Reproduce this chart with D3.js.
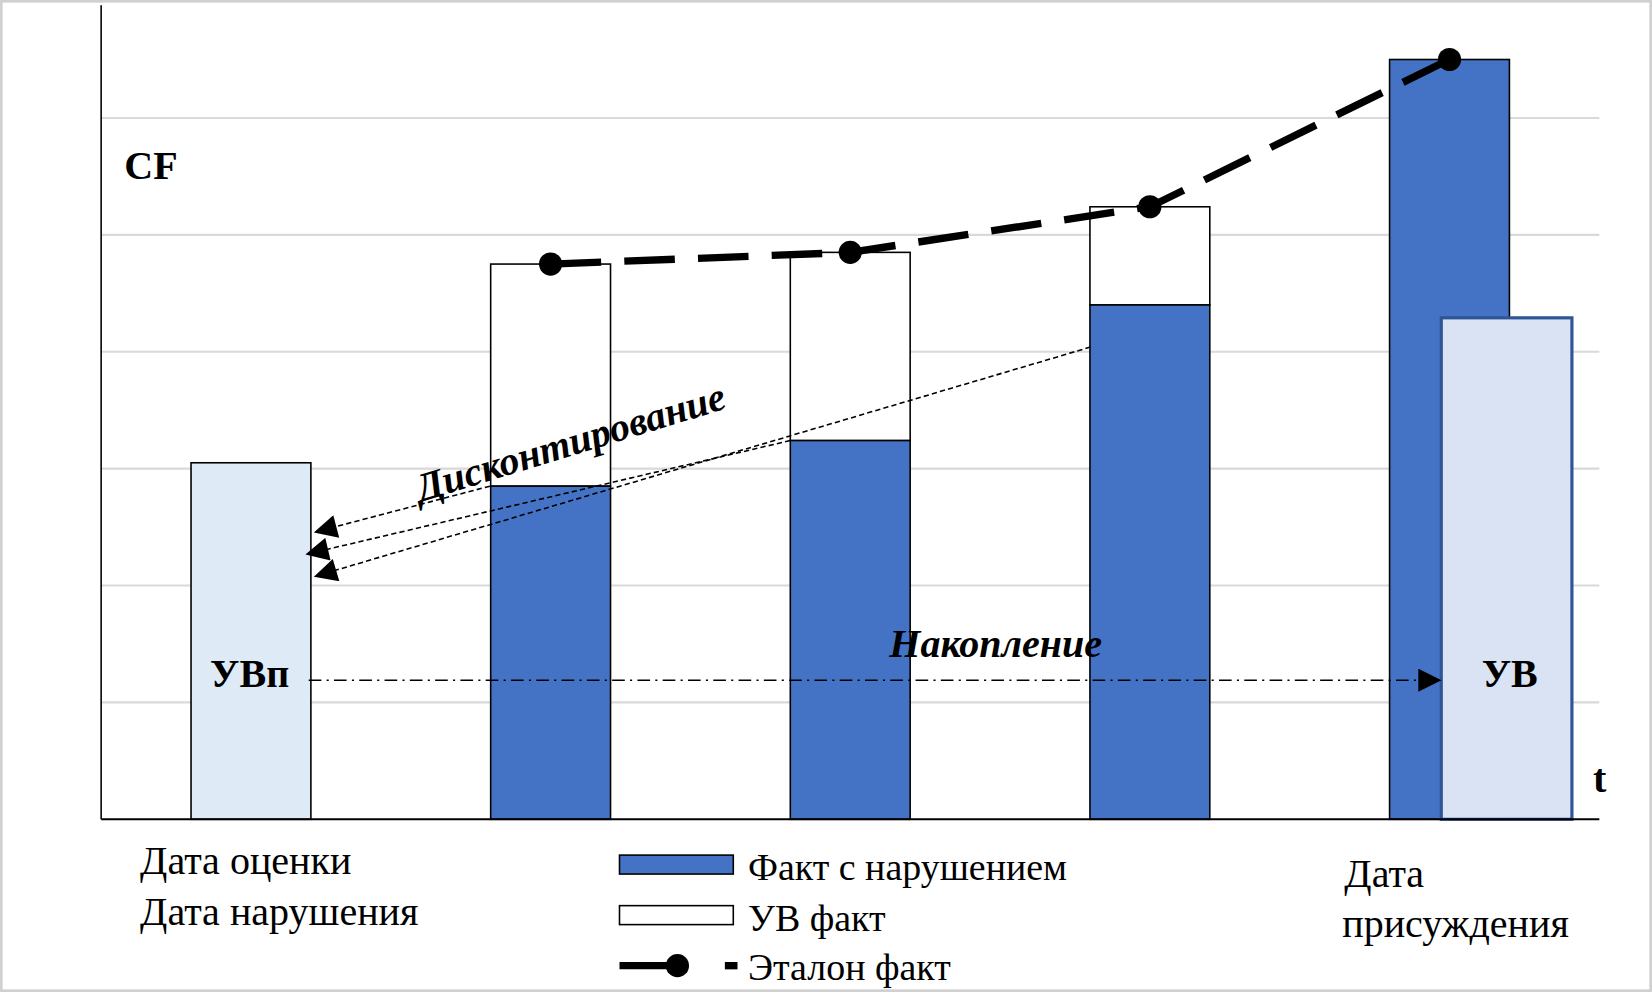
<!DOCTYPE html>
<html>
<head>
<meta charset="utf-8">
<style>
  body { margin: 0; background: #fff; }
  svg { display: block; font-family: "Liberation Serif", "Times New Roman", serif; }
</style>
</head>
<body>
<svg id="chart" width="1652" height="992" viewBox="0 0 1568 942" preserveAspectRatio="none"></svg>
<script src="https://cdn.jsdelivr.net/npm/d3@7"></script>
<script>
// data
var categories = ["Дата оценки", "p2", "p3", "p4", "Дата присуждения"];
var factValues = [0, 2.85, 3.24, 4.40, 6.50];     // Факт с нарушением
var uvTotal = [0, 4.75, 4.85, 5.24, 0];           // top of УВ факт
var etalonValues = [null, 4.75, 4.85, 5.24, 6.50];
var uvpValue = 3.05;
var uvValue = 4.29;
var gridTicks = [1, 2, 3, 4, 5, 6];

var svg = d3.select("#chart");
svg.append("rect").attr("x", 1).attr("y", 1).attr("width", 1566).attr("height", 940)
  .attr("fill", "#fff").attr("stroke", "#d0d0d0").attr("stroke-width", 3);

var x = d3.scaleBand().domain(categories).range([96, 1518]).paddingInner(0.6).paddingOuter(0.3);
var y = d3.scaleLinear().domain([0, 7]).range([778, 1]);
var bw = x.bandwidth();
var cx = function(c) { return x(c) + bw / 2; };

// grid
svg.append("g").selectAll("line").data(gridTicks).join("line")
  .attr("x1", 96).attr("x2", 1518).attr("y1", d => y(d)).attr("y2", d => y(d))
  .attr("stroke", "#d9d9d9").attr("stroke-width", 2);

// UVп bar
svg.append("rect").attr("x", x(categories[0])).attr("y", y(uvpValue))
  .attr("width", bw).attr("height", y(0) - y(uvpValue))
  .attr("fill", "#deebf7").attr("stroke", "#000").attr("stroke-width", 1.5);

// white (УВ факт) parts
var idx = [1, 2, 3];
svg.append("g").selectAll("rect").data(idx).join("rect")
  .attr("x", i => x(categories[i])).attr("y", i => y(uvTotal[i]))
  .attr("width", bw).attr("height", i => y(factValues[i]) - y(uvTotal[i]))
  .attr("fill", "#fff").attr("stroke", "#000").attr("stroke-width", 1.5);
// blue parts
svg.append("g").selectAll("rect").data([1, 2, 3, 4]).join("rect")
  .attr("x", i => x(categories[i])).attr("y", i => y(factValues[i]))
  .attr("width", bw).attr("height", i => y(0) - y(factValues[i]))
  .attr("fill", "#4472c4").attr("stroke", "#000").attr("stroke-width", 1.5);

// UV bar
svg.append("rect").attr("x", 1368).attr("y", y(uvValue))
  .attr("width", 124).attr("height", y(0) - y(uvValue))
  .attr("fill", "#dae3f3").attr("stroke", "#2f5597").attr("stroke-width", 3);

// axes
svg.append("line").attr("x1", 96).attr("x2", 96).attr("y1", 5).attr("y2", y(0)).attr("stroke", "#000").attr("stroke-width", 1.5);
svg.append("line").attr("x1", 96).attr("x2", 1518).attr("y1", y(0)).attr("y2", y(0)).attr("stroke", "#000").attr("stroke-width", 2);

// etalon line
var pts = etalonValues.map((v, i) => v == null ? null : [cx(categories[i]), y(v)]).filter(p => p);
svg.append("path").attr("d", d3.line()(pts)).attr("fill", "none")
  .attr("stroke", "#000").attr("stroke-width", 7).attr("stroke-dasharray", "48,22");
svg.append("g").selectAll("circle").data(pts).join("circle")
  .attr("cx", d => d[0]).attr("cy", d => d[1]).attr("r", 11).attr("fill", "#000");

// arrows
var defs = svg.append("defs");
defs.append("marker").attr("id", "ah").attr("viewBox", "0 0 10 10").attr("refX", 9).attr("refY", 5)
  .attr("markerWidth", 6).attr("markerHeight", 6).attr("markerUnits", "userSpaceOnUse")
  .attr("orient", "auto").append("path").attr("d", "M0,0L10,5L0,10Z").attr("fill", "#000");
defs.select("marker").attr("markerWidth", 26).attr("markerHeight", 22);

var discount = [[[465, y(factValues[1])], [300, 505]], [[750, y(factValues[2])], [292, 526]], [[1035, y(factValues[3]) + 40], [300, 547]]];
svg.append("g").selectAll("line").data(discount).join("line")
  .attr("x1", d => d[0][0]).attr("y1", d => d[0][1]).attr("x2", d => d[1][0]).attr("y2", d => d[1][1])
  .attr("stroke", "#000").attr("stroke-width", 1.5).attr("stroke-dasharray", "5,3")
  .attr("marker-end", "url(#ah)");

svg.append("line").attr("x1", 293).attr("x2", 1366).attr("y1", 646).attr("y2", 646)
  .attr("stroke", "#000").attr("stroke-width", 1.5).attr("stroke-dasharray", "12,5,2,5")
  .attr("marker-end", "url(#ah)");

// texts
function txt(t, xx, yy, size, opts) {
  opts = opts || {};
  var e = svg.append("text").attr("x", xx).attr("y", yy).text(t)
    .attr("font-size", size).attr("fill", "#000")
    .attr("font-weight", opts.bold ? "bold" : "normal")
    .attr("font-style", opts.italic ? "italic" : "normal")
    .attr("text-anchor", opts.anchor || "start");
  if (opts.rotate) e.attr("transform", "rotate(" + opts.rotate + "," + xx + "," + yy + ")");
  return e;
}
txt("CF", 118, 170, 38, {bold: true});
txt("t", 1512, 752, 38, {bold: true});
txt("УВп", 237, 652, 38, {bold: true, anchor: "middle"});
txt("УВ", 1433, 652, 38, {bold: true, anchor: "middle"});
txt("Накопление", 945, 624, 38, {bold: true, italic: true, anchor: "middle"});
txt("Дисконтирование", 545, 432, 38, {bold: true, italic: true, anchor: "middle", rotate: -17});
txt("Дата оценки", 133, 830, 38);
txt("Дата нарушения", 133, 878, 38);
txt("Дата", 1276, 842, 38);
txt("присуждения", 1274, 890, 38);

// legend
svg.append("rect").attr("x", 588).attr("y", 812).attr("width", 108).attr("height", 18)
  .attr("fill", "#4472c4").attr("stroke", "#000").attr("stroke-width", 1.5);
svg.append("rect").attr("x", 588).attr("y", 860).attr("width", 108).attr("height", 18)
  .attr("fill", "#fff").attr("stroke", "#000").attr("stroke-width", 1.5);
svg.append("line").attr("x1", 588).attr("x2", 642).attr("y1", 917).attr("y2", 917).attr("stroke", "#000").attr("stroke-width", 7);
svg.append("line").attr("x1", 688).attr("x2", 700).attr("y1", 917).attr("y2", 917).attr("stroke", "#000").attr("stroke-width", 7);
svg.append("circle").attr("cx", 643).attr("cy", 917).attr("r", 11).attr("fill", "#000");
txt("Факт с нарушением", 710, 836, 36);
txt("УВ факт", 710, 884, 36);
txt("Эталон факт", 710, 931, 36);
</script>
</body>
</html>
